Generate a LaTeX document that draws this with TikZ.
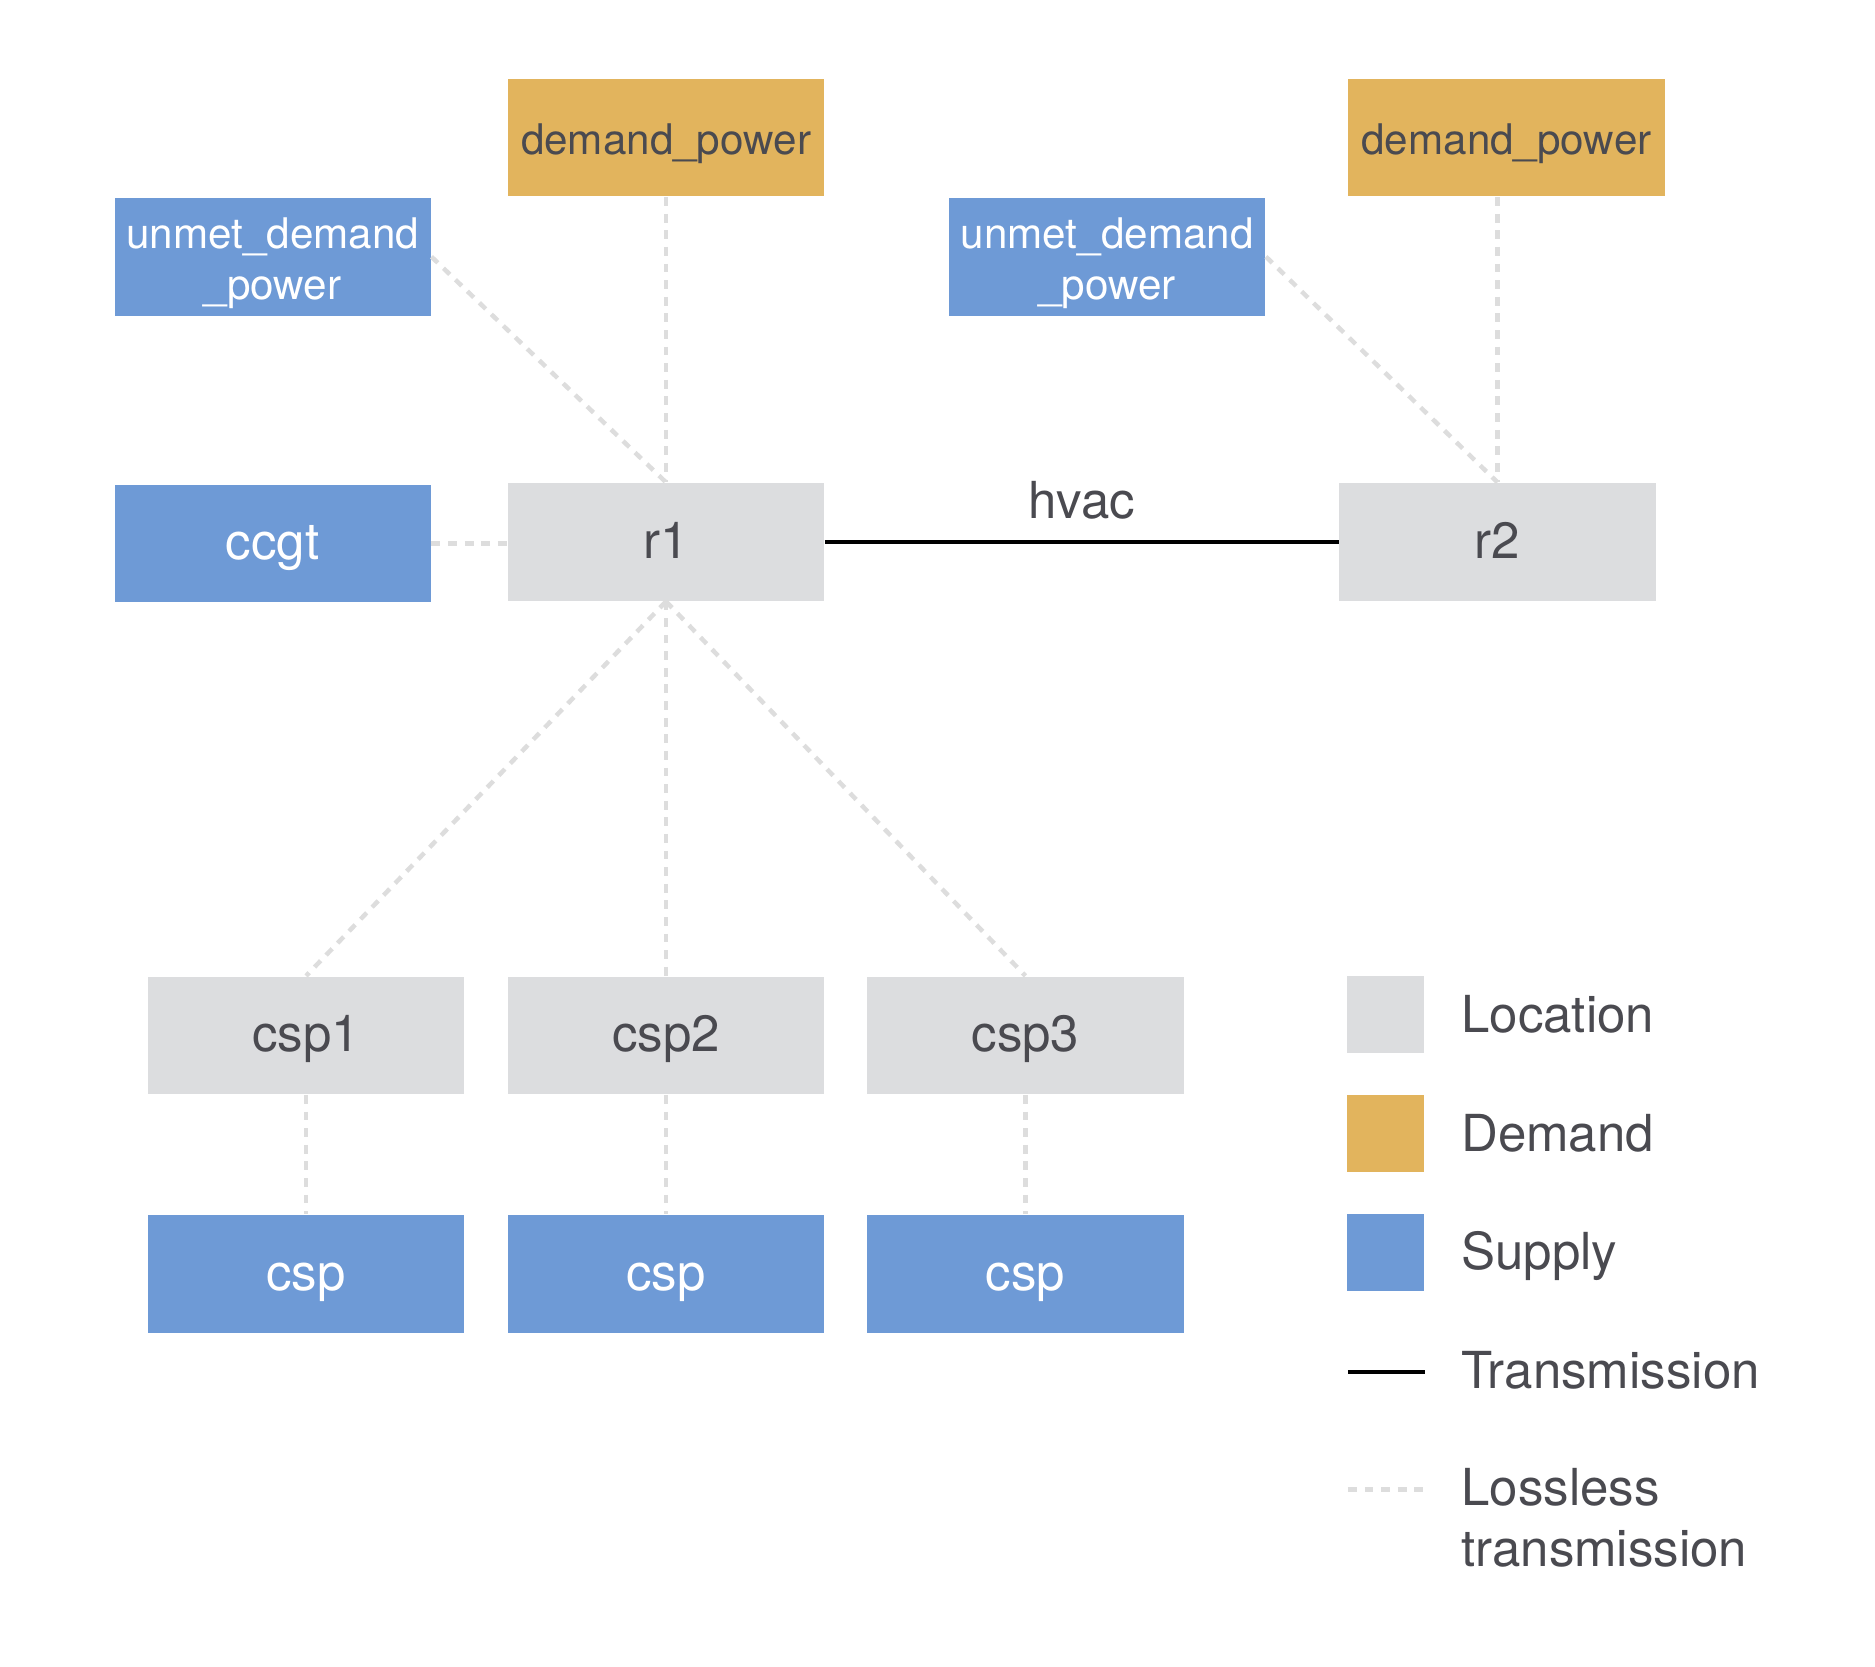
\documentclass[tikz,border=0pt]{standalone}
\usepackage{fontspec}
\setmainfont{TeX Gyre Heros}
\usepackage{tikz}
\usetikzlibrary{positioning}

\definecolor{locgrey}{RGB}{220,221,223}
\definecolor{demandgold}{RGB}{226,180,93}
\definecolor{supplyblue}{RGB}{110,154,214}
\definecolor{textgrey}{RGB}{74,74,80}
\definecolor{losslessgrey}{RGB}{221,221,221}

\tikzset{
	box/.style={inner sep=0pt, minimum width=3.16cm, minimum height=1.176cm, align=center, font=\fontsize{12}{14.4}\selectfont},
	oneline/.style={text height=0.94em, text depth=0pt},
	location/.style={box, oneline, fill=locgrey, text=textgrey, font=\fontsize{14.5}{17}\selectfont},
	demand/.style={box, oneline, fill=demandgold, text=textgrey},
	supply/.style={box, fill=supplyblue, text=white},
	bigsupply/.style={supply, oneline, font=\fontsize{14.5}{17}\selectfont},
	lossless/.style={draw=losslessgrey, line width=0.045cm, dash pattern=on 0.088cm off 0.078cm},
	transmission/.style={draw=black, line width=0.04cm},
	keybox/.style={inner sep=0pt, minimum size=0.768cm},
	keytext/.style={anchor=west, inner sep=0pt, text=textgrey, font=\fontsize{14.5}{17.4}\selectfont}
}
\newcommand{\topstrut}{\rule{0pt}{12.4pt}}

\begin{document}
\begin{tikzpicture}[x=0.00997cm, y=-0.00997cm]
	\useasboundingbox (0,0) rectangle (1880.6,1671);
	
	% Region r1 and its techs
	\node[demand] (dp1) at (668,138) {demand\_power};
	\node[supply] (um1) at (273.5,257.5) {\topstrut unmet\_demand\\\_power};
	\node[bigsupply] (ccgt) at (273.5,545) {ccgt};
	\node[location] (r1) at (668,543.5) {r1};
	\draw[lossless] (um1.east) -- (r1.north);
	\draw[lossless] (dp1.south) -- (r1.north);
	\draw[lossless] (ccgt.east) -- (ccgt.east -| r1.west);
	
	% Region r2 and its techs
	\node[demand] (dp2) at (1511,138) {demand\_power};
	\node[supply] (um2) at (1110.5,257.5) {\topstrut unmet\_demand\\\_power};
	\node[location] (r2) at (1502,543.5) {r2};
	\draw[lossless] (um2.east) -- (r2.north);
	\draw[lossless] (r2.north |- dp2.south) -- (r2.north);
	
	% Link between the regions
	\draw[transmission] (r1.east) -- node[above=0.21cm, inner sep=0pt, text height=0.72em, text depth=0pt, text=textgrey, font=\fontsize{14.5}{17}\selectfont] (hvac) {hvac} (r2.west);
	
	% csp sites below r1
	\foreach \i/\x in {1/307,2/668,3/1028.5} {
		\node[location] (csp\i) at (\x,1038.5) {csp\i};
		\node[bigsupply] (tech\i) at (\x,1277.5) {csp};
		\draw[lossless] (r1.south) -- (csp\i.north);
		\draw[lossless] (csp\i.south) -- (tech\i.north);
	}
	
	% Legend
	\node[keybox, fill=locgrey] (keyloc) at (1389.5,1017.5) {};
	\node[keybox, fill=demandgold] (keydem) at (1389.5,1137) {};
	\node[keybox, fill=supplyblue] (keysup) at (1389.5,1256.5) {};
	\coordinate (keytransA) at (1352,1376);
	\coordinate (keytransB) at (1429,1376);
	\coordinate (keylossA) at (1352,1494);
	\coordinate (keylossB) at (1429,1494);
	\draw[transmission] (keytransA) -- (keytransB);
	\draw[lossless] (keylossA) -- (keylossB);
	\node[keytext, oneline] (keyloctext) at (1465,1019) {Location};
	\node[keytext, oneline] (keydemtext) at (1465,1138) {Demand};
	\node[keytext, oneline] (keysuptext) at (1465,1257) {Supply};
	\node[keytext, oneline] (keytranstext) at (1465,1376) {Transmission};
	\node[keytext, align=left] (keylosstext) at (1465,1522) {Lossless\\transmission};
\end{tikzpicture}
\end{document}
